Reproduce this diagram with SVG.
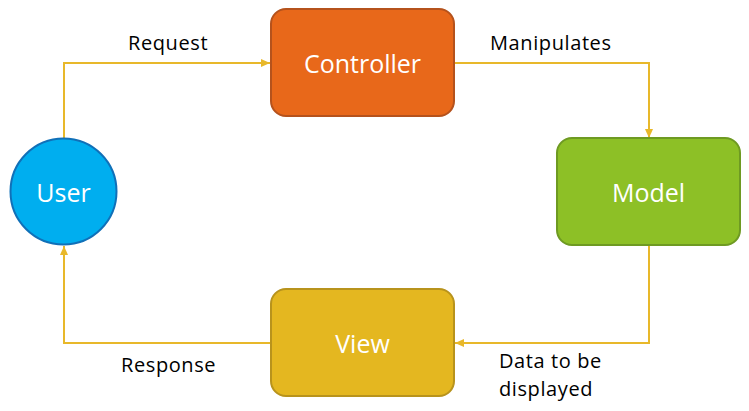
<svg xmlns="http://www.w3.org/2000/svg" width="749" height="411" viewBox="0 0 749 411">
<defs>
<marker id="arr" markerWidth="10" markerHeight="10" refX="9" refY="5" orient="auto" markerUnits="userSpaceOnUse">
<path d="M0,1 L9,5 L0,9 Z" fill="#E8B82A"/>
</marker>
<style>
.lbl{font-family:"Open Sans","DejaVu Sans",sans-serif;font-size:20px;letter-spacing:0.6px;fill:#000}
.nt{font-family:"Open Sans","DejaVu Sans",sans-serif;font-size:25px;fill:#fff;text-anchor:middle;dominant-baseline:central}
.edge{fill:none;stroke:#E8B82A;stroke-width:2;marker-end:url(#arr)}
.node{stroke-width:2}
</style>
</defs>
<rect width="749" height="411" fill="#fff"/>
<g id="connectors">
<path class="edge" d="M64,138 V63 H270"/>
<path class="edge" d="M454,63 H649 V138"/>
<path class="edge" d="M649,245 V343 H455"/>
<path class="edge" d="M270,343 H64 V246"/>
</g>
<g id="user">
<circle class="node" cx="63.5" cy="191.5" r="53" fill="#00AEEF" stroke="#1070B8"/>
<text class="nt" x="63.5" y="191.5">User</text>
</g>
<g id="controller">
<rect class="node" x="271" y="9" width="183" height="107" rx="15" fill="#E8681A" stroke="#B5521C"/>
<text class="nt" x="362.5" y="62.5">Controller</text>
</g>
<g id="model">
<rect class="node" x="557" y="138" width="183" height="107" rx="15" fill="#8DC026" stroke="#6E9A22"/>
<text class="nt" x="648.5" y="191.5">Model</text>
</g>
<g id="view">
<rect class="node" x="271" y="289" width="183" height="107" rx="15" fill="#E4B720" stroke="#B8931C"/>
<text class="nt" x="362.5" y="342.5">View</text>
</g>
<g id="labels">
<text class="lbl" x="128" y="50">Request</text>
<text class="lbl" x="490" y="50">Manipulates</text>
<text class="lbl" x="121" y="372">Response</text>
<text class="lbl" x="499" y="368">Data to be</text>
<text class="lbl" x="499" y="396">displayed</text>
</g>
</svg>
